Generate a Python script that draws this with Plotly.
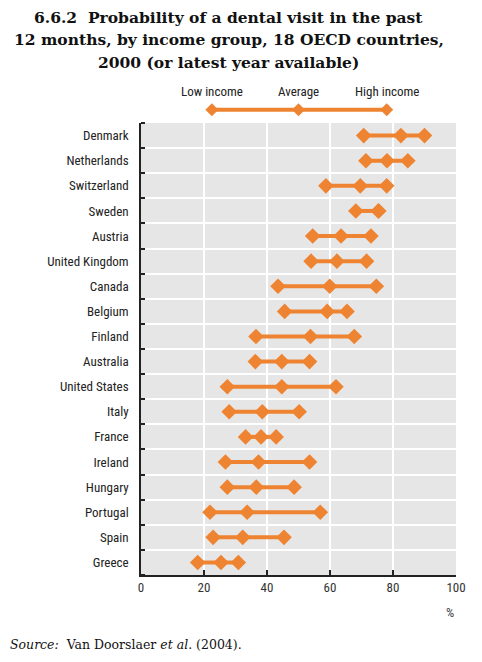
import plotly.graph_objects as go

countries = ["Denmark", "Netherlands", "Switzerland", "Sweden", "Austria", "United Kingdom",
             "Canada", "Belgium", "Finland", "Australia", "United States", "Italy",
             "France", "Ireland", "Hungary", "Portugal", "Spain", "Greece"]
low_income = [70.7, 71.4, 58.7, 68.2, 54.5, 54.0, 43.5, 45.6, 36.5, 36.3, 27.4, 28.0,
              33.2, 26.8, 27.4, 21.9, 22.9, 18.0]
average = [82.5, 78.1, 69.6, 75.3, 63.5, 62.2, 59.9, 59.1, 53.8, 44.7, 44.7, 38.5,
           38.1, 37.3, 36.6, 33.7, 32.3, 25.4]
high_income = [90.0, 84.7, 78.0, 75.5, 73.0, 71.6, 74.7, 65.4, 67.7, 53.5, 61.9, 50.2,
               42.9, 53.5, 48.6, 56.9, 45.4, 30.9]
x_ticks = [0, 20, 40, 60, 80, 100]
legend_labels = ["Low income", "Average", "High income"]
legend_x = [22.5, 50, 78]
title_lines = ["6.6.2  Probability of a dental visit in the past",
               "12 months, by income group, 18 OECD countries,",
               "2000 (or latest year available)"]

ORANGE = "#EE8431"
LABEL_FONT = "Liberation Sans Narrow, Roboto Condensed, Arial Narrow, Roboto, sans-serif"
SERIF = "DejaVu Serif, Liberation Serif, serif"

xs, ys = [], []
for i, c in enumerate(countries):
    xs += [low_income[i], average[i], high_income[i], None]
    ys += [i, i, i, None]

fig = go.Figure()
fig.add_trace(go.Scatter(
    x=xs, y=ys, mode="lines+markers",
    line=dict(color=ORANGE, width=4),
    marker=dict(symbol="diamond", size=12, color=ORANGE),
    connectgaps=False, showlegend=False, hoverinfo="skip"))

# legend key
fig.add_trace(go.Scatter(
    x=legend_x, y=[0, 0, 0], mode="lines+markers", xaxis="x", yaxis="y2",
    line=dict(color=ORANGE, width=4),
    marker=dict(symbol="diamond", size=10, color=ORANGE),
    showlegend=False, hoverinfo="skip"))

annotations = []
for lx, lab in zip(legend_x, legend_labels):
    annotations.append(dict(x=lx, y=0.977, xref="x", yref="paper", text=lab,
                            showarrow=False, xanchor="center", yanchor="middle",
                            font=dict(family=LABEL_FONT, size=13, color="#222")))
annotations.append(dict(x=1, y=-0.075, xref="paper", yref="paper", text="%",
                        showarrow=False, xanchor="right", yanchor="middle",
                        font=dict(family=LABEL_FONT, size=13, color="#444")))
annotations.append(dict(x=-0.422, y=-0.141, xref="paper", yref="paper",
                        text="<i>Source:</i>  Van Doorslaer <i>et al</i>. (2004).",
                        showarrow=False, xanchor="left", yanchor="middle",
                        font=dict(family=SERIF, size=12.5, color="#111")))
for k, line in enumerate(title_lines):
    annotations.append(dict(x=0.279, y=1.127 - k * 0.0455, xref="paper", yref="paper",
                            text="<b>" + line + "</b>", showarrow=False,
                            xanchor="center", yanchor="middle",
                            font=dict(family=SERIF, size=15.5, color="#111")))

n = len(countries)
fig.update_layout(
    width=474, height=654,
    margin=dict(l=133, r=26, t=72, b=87),
    paper_bgcolor="white",
    plot_bgcolor="white",
    shapes=[dict(type="rect", xref="x domain", yref="y domain", x0=0, x1=1, y0=0, y1=1,
                 fillcolor="#E6E6E6", line=dict(width=0), layer="below")],
    xaxis=dict(range=[0, 100], tickvals=x_ticks, showgrid=True, gridcolor="white", gridwidth=2,
               zeroline=False, showline=True, linecolor="#222", linewidth=1.5,
               ticks="inside", ticklen=5, tickcolor="#222", tickwidth=1.5,
               tickfont=dict(family=LABEL_FONT, size=13, color="#333"), fixedrange=True),
    yaxis=dict(range=[n - 0.5, -0.5], tickvals=list(range(n)), ticktext=countries,
               showgrid=False, zeroline=False, showline=True, linecolor="#222", linewidth=1.5,
               ticks="", ticklabelstandoff=8,
               tickfont=dict(family=LABEL_FONT, size=13, color="#222"),
               minor=dict(tickvals=[i - 0.5 for i in range(n + 1)], showgrid=True,
                          gridcolor="white", gridwidth=2, ticks="inside", ticklen=4,
                          tickcolor="#222", tickwidth=1.5),
               domain=[0, 0.913]),
    yaxis2=dict(domain=[0.925, 0.955], range=[-1, 1], visible=False, fixedrange=True),
    annotations=annotations,
)

fig.write_html("out.html")
